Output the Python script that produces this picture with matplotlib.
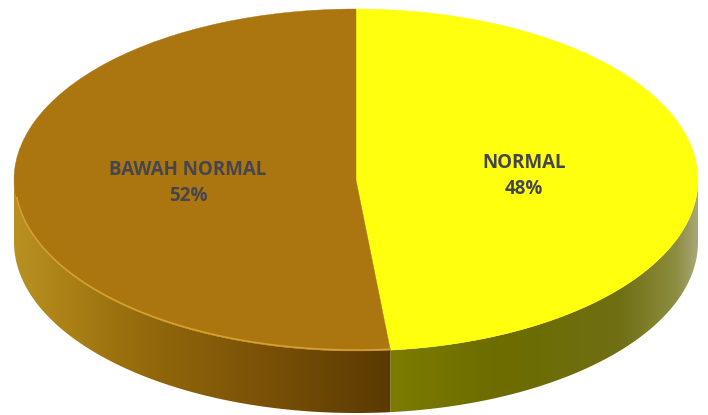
import numpy as np
import matplotlib
matplotlib.use("Agg")
import matplotlib.pyplot as plt
from matplotlib.colors import LinearSegmentedColormap
from matplotlib.patches import Wedge, Polygon
from matplotlib.transforms import Affine2D

labels = ["NORMAL", "BAWAH NORMAL"]
values = [48.4, 51.6]
shown_pct = ["48%", "52%"]
top_colors = ["#ffff0e", "#ab7510"]

# side shading, position along the slice's own x range
side_stops = [
    [(0.0, "#7c7c00"), (0.35, "#6c6c00"), (0.75, "#6f6f14"), (0.93, "#8d8d40"), (1.0, "#a8a878")],
    [(0.0, "#b99122"), (0.12, "#ad8318"), (0.35, "#93690c"), (0.65, "#7b5207"), (1.0, "#5a3a03")],
]

cx, cy, rx, ry = 356, 235, 342, 171
depth = 62

fig = plt.figure(figsize=(7.08, 4.15), dpi=100)
ax = fig.add_axes([0, 0, 1, 1])
ell = Affine2D().scale(rx, ry).translate(cx, cy) + ax.transData

starts = 90 - np.cumsum([0] + values[:-1]) * 3.6
ends = starts - np.array(values) * 3.6

for i, val in enumerate(values):
    a1, a2 = ends[i] % 360, starts[i] % 360
    if a2 < a1:
        a2 += 360
    # front part of the rim only
    lo, hi = max(a1, 180), min(a2, 360)
    th = np.radians(np.linspace(lo, hi, 200))
    x = cx + rx * np.cos(th)
    y = cy + ry * np.sin(th)
    poly = Polygon(np.r_[np.c_[x, y], np.c_[x, y - depth][::-1]], closed=True, fc="none", ec="none")
    ax.add_patch(poly)
    cmap = LinearSegmentedColormap.from_list("side%d" % i, side_stops[i])
    grad = np.linspace(0, 1, 256).reshape(1, -1)
    im = ax.imshow(grad, cmap=cmap, aspect="auto",
                   extent=[x.min(), x.max(), cy - ry - depth, cy + ry], zorder=1)
    im.set_clip_path(poly)

for i, val in enumerate(values):
    w = Wedge((0, 0), 1, ends[i], starts[i], fc=top_colors[i], ec=top_colors[i], lw=0.3,
              transform=ell, zorder=2)
    ax.add_patch(w)

# light rim along the front left of the brown slice
th = np.radians(np.linspace(186, starts[1] % 360, 200))
ax.plot(cx + (rx - 1) * np.cos(th), cy + (ry - 1) * np.sin(th), color="#d6a32c", lw=1.1, zorder=3)

txt = dict(family="Open Sans", fontweight="bold", fontsize=13.5, color="#44464f",
           ha="center", va="center", zorder=4, linespacing=1.4)
ax.text(524, 415 - 176, labels[0] + "\n" + shown_pct[0], **txt)
ax.text(188, 415 - 183, labels[1] + "\n" + shown_pct[1], **txt)

ax.set_xlim(0, 708)
ax.set_ylim(0, 415)
ax.axis("off")

fig.savefig("out.png", dpi=100)
